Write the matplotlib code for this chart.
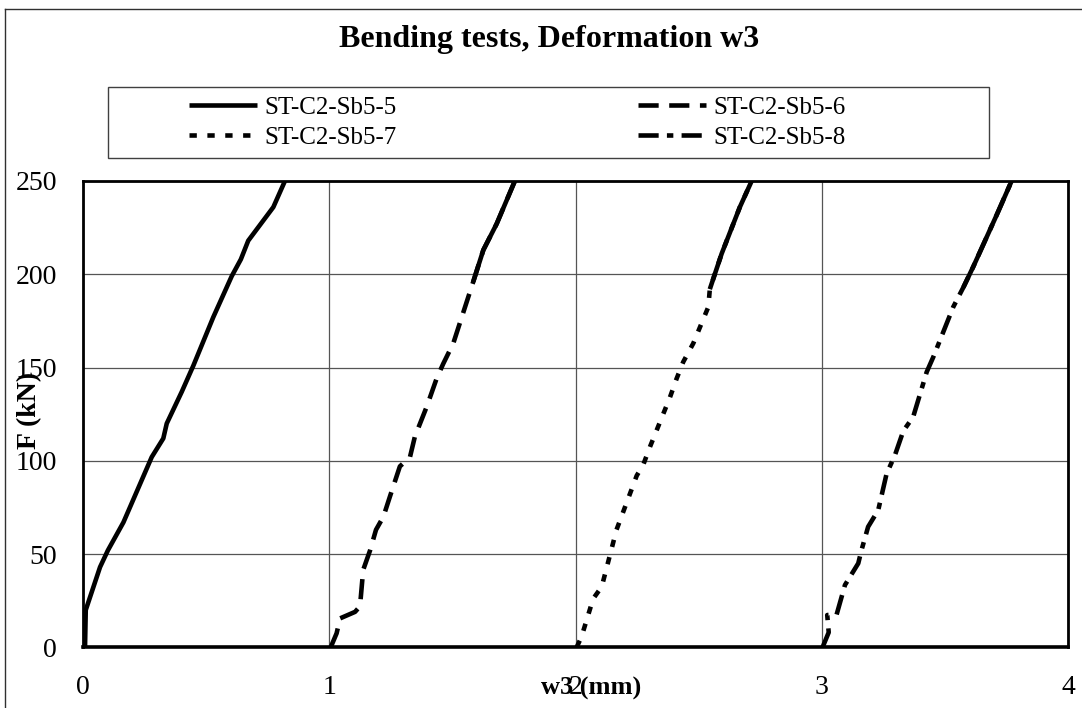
import matplotlib
matplotlib.use("Agg")
import matplotlib.pyplot as plt
from matplotlib.lines import Line2D
import numpy as np

plt.rcParams['font.family'] = ['Liberation Serif', 'DejaVu Serif']

# Bending tests: load F (kN) against deformation w3 (mm)
labels = ["ST-C2-Sb5-5", "ST-C2-Sb5-6", "ST-C2-Sb5-7", "ST-C2-Sb5-8"]

w_s5 = [0.007, 0.010, 0.068, 0.100, 0.163, 0.278, 0.325, 0.339, 0.400, 0.447,
        0.528, 0.603, 0.640, 0.670, 0.704, 0.772, 0.819]
F_s5 = [0, 20, 43, 52, 67, 102, 112, 120, 137, 151, 177, 199, 208, 218, 224, 236, 250]

w_s6 = [1.005, 1.029, 1.043, 1.104, 1.124, 1.137, 1.165, 1.189, 1.219, 1.246,
        1.286, 1.327, 1.347, 1.395, 1.435, 1.462, 1.503, 1.584, 1.625, 1.679, 1.753]
F_s6 = [0, 7.5, 15.5, 19, 22, 41.5, 52, 63, 70, 81, 97, 102, 113, 129, 144, 152,
        163, 196, 213, 227, 250]

w_s7 = [2.004, 2.024, 2.071, 2.106, 2.166, 2.248, 2.275, 2.302, 2.383, 2.410,
        2.437, 2.478, 2.539, 2.545, 2.593, 2.667, 2.715]
F_s7 = [0, 5.7, 26, 32.5, 63, 92, 98, 107.5, 134, 144, 153, 163, 182.5, 192,
        211, 236, 250]

w_s8 = [3.003, 3.028, 3.022, 3.060, 3.094, 3.148, 3.161, 3.188, 3.229, 3.263,
        3.297, 3.331, 3.371, 3.426, 3.453, 3.534, 3.575, 3.615, 3.710, 3.771]
F_s8 = [0, 8, 17.3, 17.5, 33.4, 45, 52, 64.6, 73.5, 93, 103, 116, 123.5, 147.6,
        155.7, 182.5, 193, 204, 231.7, 250]

# densely sampled upper part of each record renders as a continuous line
solid_from = [0, 196, 192, 193]

x_ticks = [0, 1, 2, 3, 4]
y_ticks = [0, 50, 100, 150, 200, 250]

W, H = 1082, 708
fig = plt.figure(figsize=(W / 100, H / 100), dpi=100)
fig.patch.set_facecolor('white')

# outer chart border (left and top edges)
fig.add_artist(Line2D([5 / W, 5 / W], [-0.1, 1 - 9 / H], transform=fig.transFigure,
                      color='#303030', lw=1.0))
fig.add_artist(Line2D([5 / W, 1.1], [1 - 9 / H, 1 - 9 / H], transform=fig.transFigure,
                      color='#303030', lw=1.0))

ax = fig.add_axes([83.3 / W, 1 - 647.3 / H, (1068 - 83.3) / W, (647.3 - 181) / H])

lw = 3.3
styles = [
    '-',
    (0, (4.4, 2.3)),
    (0, (1.6, 2.3)),
    (0, (4.4, 1.8, 1.4, 1.8)),
]
series = [(w_s5, F_s5), (w_s6, F_s6), (w_s7, F_s7), (w_s8, F_s8)]

handles = []
for (w, F), ls, lab, f0 in zip(series, styles, labels, solid_from):
    w = np.asarray(w)
    F = np.asarray(F)
    h, = ax.plot(w, F, color='black', lw=lw, linestyle=ls, label=lab,
                 solid_capstyle='butt', dash_capstyle='butt', zorder=3)
    handles.append(h)
    if f0 > 0:
        m = F >= f0
        ax.plot(w[m], F[m], color='black', lw=lw, linestyle='-',
                solid_capstyle='butt', zorder=3)

ax.set_xlim(0, 4)
ax.set_ylim(0, 250)
ax.set_xticks(x_ticks)
ax.set_yticks(y_ticks)
ax.set_xticklabels([str(t) for t in x_ticks])
ax.set_yticklabels([str(t) for t in y_ticks])
ax.tick_params(axis='both', length=0, labelsize=20)
ax.tick_params(axis='y', pad=19)
ax.tick_params(axis='x', pad=20)
ax.grid(True, color='#555555', lw=0.9)
ax.set_axisbelow(True)
for s in ax.spines.values():
    s.set_linewidth(2.0)
    s.set_color('black')
ax.spines['bottom'].set_linewidth(2.6)

# axis titles
fig.text(591 / W, 1 - 688 / H, "w3 (mm)", ha='center', va='center',
         fontsize=19, fontweight='bold')
fig.text(30 / W, 1 - 410 / H, "F (kN)", ha='center', va='center',
         rotation=90, fontsize=20, fontweight='bold')

# chart title
fig.text(549 / W, 1 - 40 / H, "Bending tests, Deformation w3", ha='center',
         va='center', fontsize=23, fontweight='bold')

# legend box
fig.add_artist(plt.Rectangle((108 / W, 1 - 158 / H), (989 - 108) / W, 71 / H,
                             transform=fig.transFigure, fill=False,
                             edgecolor='#404040', lw=1.0))

leg_kw = dict(frameon=False, borderpad=0, borderaxespad=0, fontsize=18,
              handlelength=2.7, handletextpad=0.3, labelspacing=0.3,
              loc='upper left')
fig.legend([handles[0], handles[2]], [labels[0], labels[2]],
           bbox_to_anchor=(189 / W, 1 - 96 / H), **leg_kw)
fig.legend([handles[1], handles[3]], [labels[1], labels[3]],
           bbox_to_anchor=(638 / W, 1 - 96 / H), **leg_kw)

fig.savefig("out.png", dpi=100, facecolor='white')
